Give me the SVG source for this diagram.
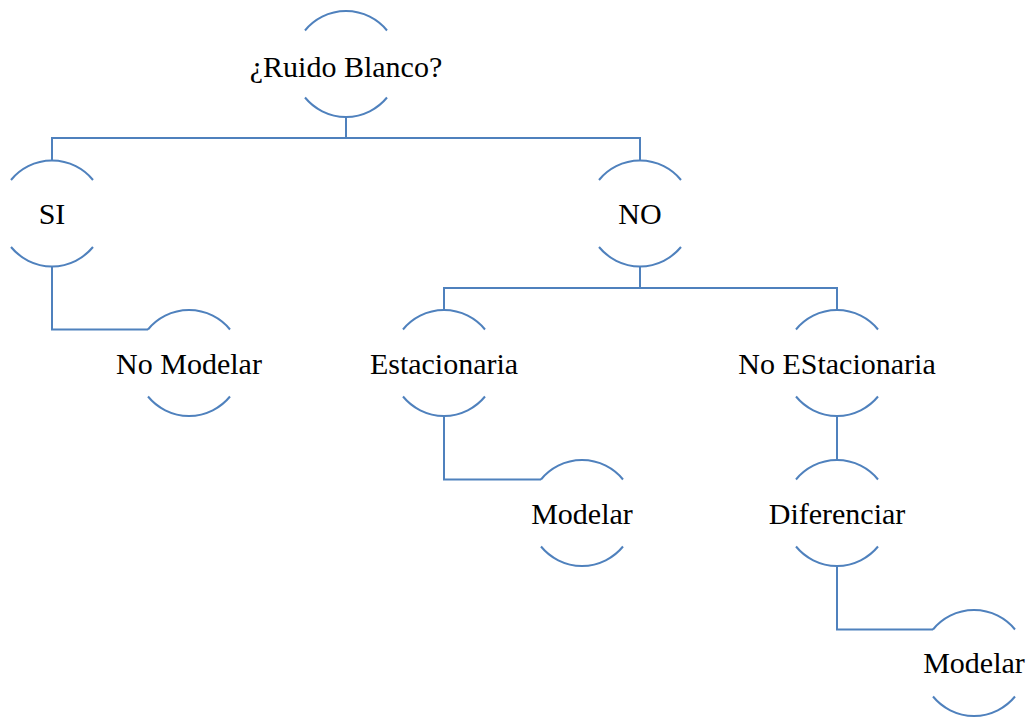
<svg xmlns="http://www.w3.org/2000/svg" width="1033" height="718" viewBox="0 0 1033 718">
<style>
.arc{fill:none;stroke:#4F81BD;stroke-width:2}
.con{fill:none;stroke:#4F81BD;stroke-width:2}
text{font-family:"Liberation Serif","DejaVu Serif",serif;font-size:30px;fill:#000;text-anchor:middle}
</style>
<defs>
<path id="arcs" class="arc" d="M-41,-33.5 A53,53 0 0 1 41,-33.5 M-41,33.5 A53,53 0 0 0 41,33.5"/>
</defs>
<rect width="1033" height="718" fill="#fff"/>
<g id="connectors">
<path class="con" d="M346,117 V138 M52,160.5 V138 H640 V160.5"/>
<path class="con" d="M52,266 V329.5 H148"/>
<path class="con" d="M640,266 V288 M444,310.5 V288 H837 V310.5"/>
<path class="con" d="M444,416 V479.5 H541"/>
<path class="con" d="M837,416 V460.5"/>
<path class="con" d="M837,566 V629.5 H933"/>
</g>
<g id="n-ruido" transform="translate(346,64)"><use href="#arcs"/><text x="0" y="13">¿Ruido Blanco?</text></g>
<g id="n-si" transform="translate(52,213.5)"><use href="#arcs"/><text x="0" y="10.5">SI</text></g>
<g id="n-no" transform="translate(640,213.5)"><use href="#arcs"/><text x="0" y="10.5">NO</text></g>
<g id="n-nomodelar" transform="translate(189,363)"><use href="#arcs"/><text x="0" y="11">No Modelar</text></g>
<g id="n-estacionaria" transform="translate(444,363)"><use href="#arcs"/><text x="0" y="11">Estacionaria</text></g>
<g id="n-noestacionaria" transform="translate(837,363)"><use href="#arcs"/><text x="0" y="11">No EStacionaria</text></g>
<g id="n-modelar1" transform="translate(582,513)"><use href="#arcs"/><text x="0" y="11">Modelar</text></g>
<g id="n-diferenciar" transform="translate(837,513)"><use href="#arcs"/><text x="0" y="11">Diferenciar</text></g>
<g id="n-modelar2" transform="translate(974,663)"><use href="#arcs"/><text x="0" y="10">Modelar</text></g>
</svg>
